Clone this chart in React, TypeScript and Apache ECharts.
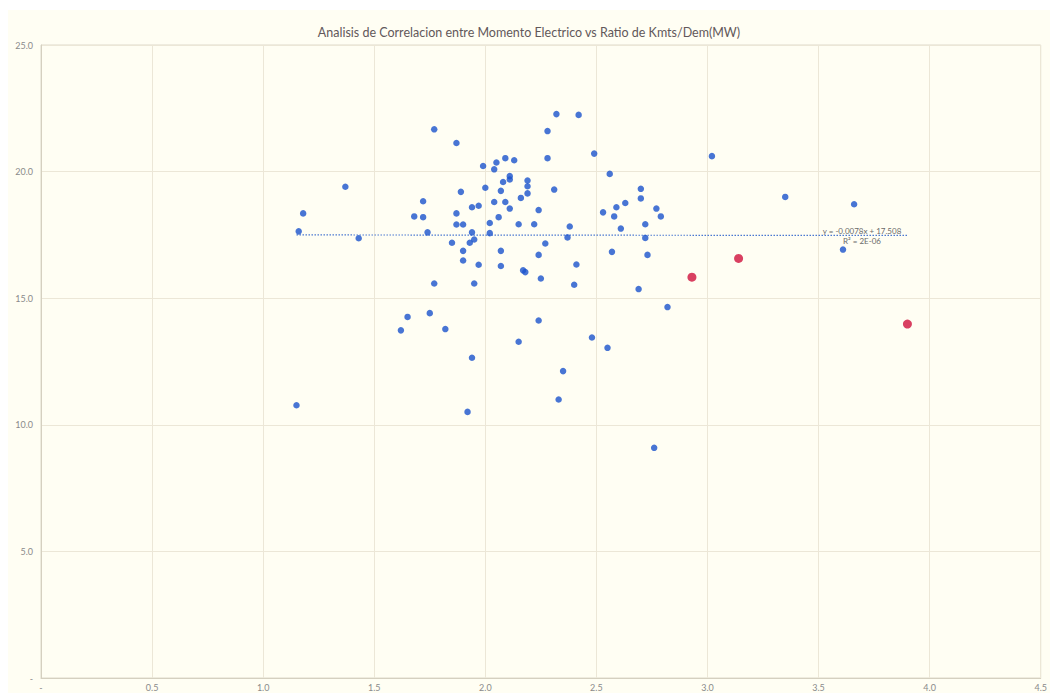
import React, { useEffect, useRef } from "react";
import * as echarts from "echarts";

const titleText = "Analisis de Correlacion entre Momento Electrico vs Ratio de Kmts/Dem(MW)";

const bluePoints: [number, number][] = [
  [1.77, 21.67], [1.87, 21.13], [1.99, 20.22], [2.05, 20.36], [2.04, 20.09],
  [2.09, 20.53], [2.13, 20.45], [2.11, 19.82], [2.11, 19.69], [2.08, 19.59],
  [2.19, 19.65], [2.19, 19.42], [2.19, 19.14], [1.37, 19.40], [1.18, 18.35],
  [1.16, 17.64], [1.43, 17.37], [1.72, 18.83], [1.68, 18.23], [1.72, 18.20],
  [1.74, 17.60], [1.89, 19.20], [2.00, 19.36], [1.87, 18.35], [1.94, 18.59],
  [1.97, 18.65], [2.07, 19.24], [2.04, 18.80], [2.09, 18.80], [2.11, 18.54],
  [2.16, 18.96], [2.06, 18.20], [2.02, 17.97], [2.15, 17.92], [1.87, 17.91],
  [1.90, 17.91], [1.94, 17.60], [2.02, 17.57], [1.85, 17.19], [1.93, 17.19],
  [1.95, 17.32], [1.90, 16.87], [1.90, 16.49], [1.97, 16.32], [2.07, 16.87],
  [2.07, 16.27], [2.17, 16.10], [2.18, 16.03], [1.77, 15.58], [1.95, 15.58],
  [2.32, 22.27], [2.42, 22.24], [2.28, 21.60], [2.28, 20.53], [2.49, 20.71],
  [2.56, 19.91], [2.31, 19.29], [2.24, 18.48], [2.22, 17.92], [2.38, 17.83],
  [2.37, 17.40], [2.27, 17.16], [2.24, 16.71], [2.41, 16.33], [2.25, 15.78],
  [2.40, 15.53], [2.70, 19.32], [2.70, 18.94], [2.77, 18.54], [2.79, 18.23],
  [2.63, 18.76], [2.59, 18.59], [2.53, 18.39], [2.58, 18.23], [2.72, 17.92],
  [2.61, 17.75], [2.72, 17.38], [2.57, 16.83], [2.73, 16.71], [2.69, 15.36],
  [3.02, 20.61], [3.35, 19.00], [3.66, 18.71], [3.61, 16.92], [2.82, 14.65],
  [1.65, 14.26], [1.75, 14.41], [1.62, 13.73], [1.82, 13.78], [1.94, 12.65],
  [2.24, 14.12], [2.15, 13.28], [2.48, 13.45], [2.55, 13.04], [2.35, 12.12],
  [2.33, 11.00], [1.15, 10.77], [1.92, 10.51], [2.76, 9.09],
];

const redPoints: [number, number][] = [
  [2.93, 15.83], [3.14, 16.57], [3.90, 13.98],
];

const trendSlope = -0.0078;
const trendIntercept = 17.508;
const trendEquation = "y = -0.0078x + 17.508";
const trendR2 = "R² = 2E-06";

const xTicks = { min: 0, max: 4.5, interval: 0.5 };
const yTicks = { min: 0, max: 25, interval: 5 };

const fmt = (v: number) => (v === 0 ? "-" : v.toFixed(1));

export default function App() {
  const ref = useRef<HTMLDivElement>(null);

  useEffect(() => {
    if (!ref.current) return;
    const chart = echarts.init(ref.current, undefined, { renderer: "svg" });
    const allX = [...bluePoints, ...redPoints].map((p) => p[0]);
    const minX = Math.min(...allX);
    const maxX = Math.max(...allX);
    const trend: [number, number][] = [
      [minX, trendSlope * minX + trendIntercept],
      [maxX, trendSlope * maxX + trendIntercept],
    ];

    chart.setOption({
      animation: false,
      backgroundColor: "#FFFEF3",
      title: {
        text: titleText,
        left: "center",
        top: 11,
        textStyle: {
          fontFamily: "Lato",
          fontSize: 12.5,
          fontWeight: "normal",
          color: "#62585a",
        },
      },
      grid: {
        left: 33,
        top: 35,
        width: 1001,
        height: 633,
        show: true,
        borderColor: "#DEDACB",
        borderWidth: 1,
        backgroundColor: "transparent",
      },
      xAxis: {
        type: "value",
        min: xTicks.min,
        max: xTicks.max,
        interval: xTicks.interval,
        axisLine: { show: true, lineStyle: { color: "#D5D0C0" } },
        axisTick: { show: false },
        splitLine: { show: true, lineStyle: { color: "#ECE7D7", width: 1 } },
        axisLabel: {
          formatter: fmt,
          color: "#8a8a8a",
          fontSize: 9,
          fontFamily: "Lato",
          margin: 5,
          showMaxLabel: true,
          showMinLabel: true,
        },
      },
      yAxis: {
        type: "value",
        min: yTicks.min,
        max: yTicks.max,
        interval: yTicks.interval,
        axisLine: { show: true, lineStyle: { color: "#D5D0C0" } },
        axisTick: { show: false },
        splitLine: { show: true, lineStyle: { color: "#ECE7D7", width: 1 } },
        axisLabel: {
          formatter: fmt,
          color: "#8a8a8a",
          fontSize: 9,
          fontFamily: "Lato",
          margin: 8,
        },
      },
      series: [
        {
          type: "line",
          data: trend,
          symbol: "none",
          lineStyle: { color: "#4a78d0", width: 1.2, type: [1.5, 1.5] },
          z: 1,
        },
        {
          type: "scatter",
          data: bluePoints,
          symbolSize: 6.5,
          itemStyle: { color: "#1A52CC" },
          z: 3,
        },
        {
          type: "scatter",
          data: redPoints,
          symbolSize: 9,
          itemStyle: { color: "#D0103C" },
          z: 4,
        },
      ],
      graphic: [
        {
          type: "text",
          x: 854,
          y: 220.5,
          style: {
            text: trendEquation,
            fill: "#6a6a6a",
            fontSize: 8,
            fontFamily: "Lato",
            textAlign: "center",
            textVerticalAlign: "middle",
          },
        },
        {
          type: "text",
          x: 854,
          y: 230.5,
          style: {
            text: trendR2,
            fill: "#6a6a6a",
            fontSize: 8,
            fontFamily: "Lato",
            textAlign: "center",
            textVerticalAlign: "middle",
          },
        },
      ],
    });

    return () => chart.dispose();
  }, []);

  return (
    <div
      ref={ref}
      style={{ position: "absolute", left: 8, top: 10, width: 1042, height: 683 }}
    />
  );
}
